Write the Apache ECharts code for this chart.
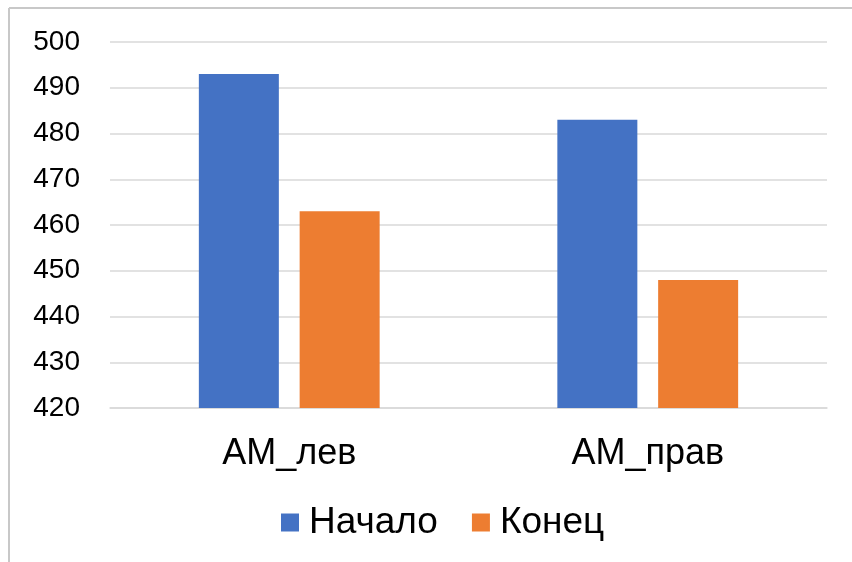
<!DOCTYPE html>
<html>
<head>
<meta charset="utf-8">
<script src="https://cdn.jsdelivr.net/npm/echarts@6/dist/echarts.min.js"></script>
<style>
  html, body { margin: 0; padding: 0; background: #ffffff; }
  #chart { width: 852px; height: 562px; }
</style>
</head>
<body>
<div id="chart"></div>
<script>
// Categories and series values
const categories = ['АМ_лев', 'АМ_прав'];
const seriesNames = ['Начало', 'Конец'];
const startValues = [493, 483];
const endValues = [463, 448];
const yTicks = { min: 420, max: 500, interval: 10 };

const colors = ['#4472C4', '#ED7D31'];
const font = 'Liberation Sans, Arial, sans-serif';

const chart = echarts.init(document.getElementById('chart'), null, { renderer: 'canvas' });

chart.setOption({
  animation: false,
  backgroundColor: '#ffffff',
  color: colors,
  grid: { left: 110, right: 25, top: 42, bottom: 154, containLabel: false },
  legend: {
    data: seriesNames,
    top: 499,
    left: 276,
    itemWidth: 18,
    itemHeight: 18,
    itemGap: 34,
    icon: 'rect',
    textStyle: { fontFamily: font, fontSize: 37, color: '#000000', padding: [0, 0, 0, 5] }
  },
  xAxis: {
    type: 'category',
    data: categories,
    axisLine: { show: true, lineStyle: { color: '#d9d9d9', width: 1.5 } },
    axisTick: { show: false },
    axisLabel: { fontFamily: font, fontSize: 36, color: '#000000', margin: 28 }
  },
  yAxis: {
    type: 'value',
    min: yTicks.min,
    max: yTicks.max,
    interval: yTicks.interval,
    axisLine: { show: false },
    axisTick: { show: false },
    splitLine: { lineStyle: { color: '#d9d9d9', width: 1.5 } },
    axisLabel: { fontFamily: font, fontSize: 28, color: '#000000', margin: 30 }
  },
  series: [
    { name: seriesNames[0], type: 'bar', data: startValues, barWidth: 80, barGap: '26%' },
    { name: seriesNames[1], type: 'bar', data: endValues, barWidth: 80, barGap: '26%' }
  ],
  graphic: [
    { type: 'line', shape: { x1: 9, y1: 8, x2: 852, y2: 8 }, style: { stroke: '#c8c8c8', lineWidth: 2 } },
    { type: 'line', shape: { x1: 9, y1: 8, x2: 9, y2: 562 }, style: { stroke: '#c8c8c8', lineWidth: 2 } }
  ]
});
</script>
</body>
</html>
